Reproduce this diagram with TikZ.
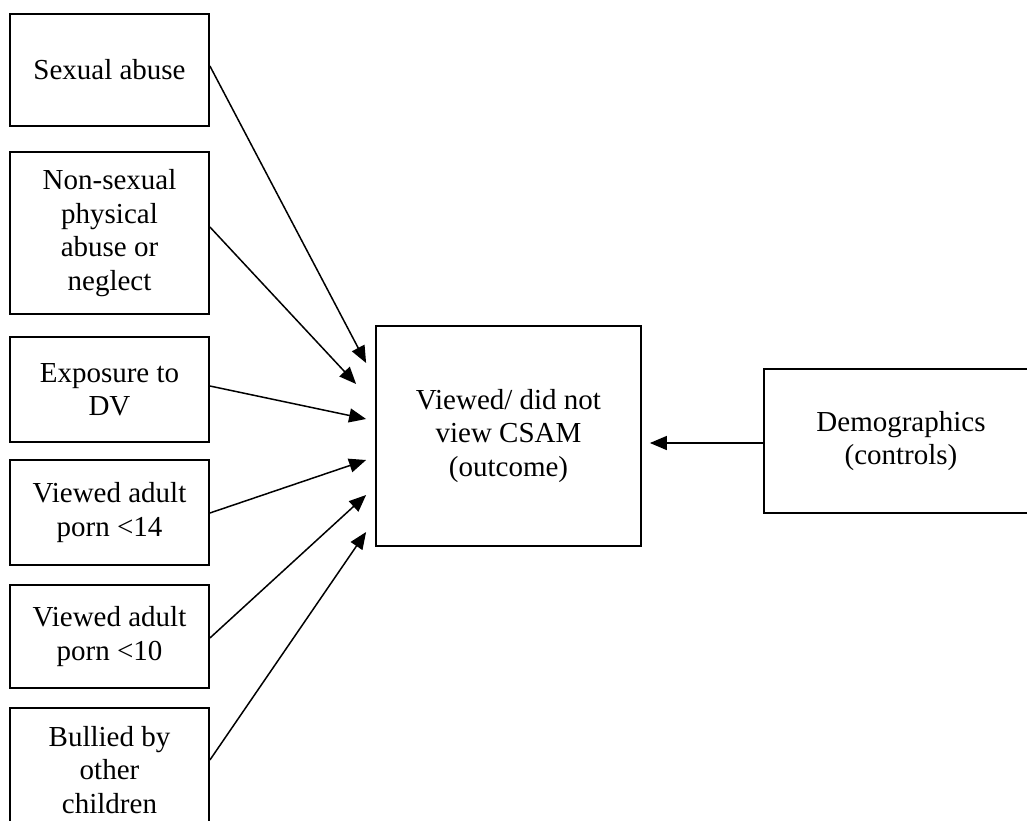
\documentclass[tikz,border=0pt]{standalone}
\usepackage{fontspec}
\setmainfont{Liberation Serif}
\usetikzlibrary{arrows.meta}
\begin{document}
\begin{tikzpicture}[x=1pt,y=-1pt,
  box/.style={draw=black,line width=1.8pt,rectangle,inner sep=0pt,align=center,
    font=\fontsize{29}{33.5}\selectfont},
  link/.style={line width=1.5pt,-{Triangle[length=17pt,width=14pt]}}]
\useasboundingbox (0,0) rectangle (1027,821);
\clip (0,0) rectangle (1027,821);
\fill[white] (0,0) rectangle (1027,821);

% predictors on the left
\node[box,minimum width=199pt,minimum height=112pt] (sa)  at (109.5,70)    {Sexual abuse};
\node[box,minimum width=199pt,minimum height=162pt] (np)  at (109.5,233)   {Non-sexual\\physical\\abuse or\\neglect};
\node[box,minimum width=199pt,minimum height=105pt] (dv)  at (109.5,389.5) {Exposure to\\DV};
\node[box,minimum width=199pt,minimum height=105pt] (p14) at (109.5,512.5) {Viewed adult\\porn <14};
\node[box,minimum width=199pt,minimum height=103pt] (p10) at (109.5,636.5) {Viewed adult\\porn <10};
\node[box,minimum width=199pt,minimum height=124pt] (bul) at (109.5,770)   {Bullied by\\other\\children};

% outcome and controls
\node[box,minimum width=265pt,minimum height=220pt] (ctr)  at (508.5,436) {Viewed/ did not\\view CSAM\\(outcome)};
\node[box,minimum width=274pt,minimum height=144pt] (demo) at (901,441)   {Demographics\\(controls)};

% paths into the outcome
\draw[link] ([yshift=4pt]sa.east)    -- ([xshift=-9pt,yshift=73pt]ctr.west);
\draw[link] ([yshift=6pt]np.east)    -- ([xshift=-19pt,yshift=52pt]ctr.west);
\draw[link] ([yshift=3.5pt]dv.east)  -- ([xshift=-9pt,yshift=17pt]ctr.west);
\draw[link] ([yshift=-0.5pt]p14.east)-- ([xshift=-9pt,yshift=-24pt]ctr.west);
\draw[link] ([yshift=-1.5pt]p10.east)-- ([xshift=-9pt,yshift=-59pt]ctr.west);
\draw[link] ([yshift=10pt]bul.east)  -- ([xshift=-9pt,yshift=-96pt]ctr.west);
\draw[link] ([yshift=-2pt]demo.west) -- ([xshift=8pt,yshift=-7pt]ctr.east);
\end{tikzpicture}
\end{document}
